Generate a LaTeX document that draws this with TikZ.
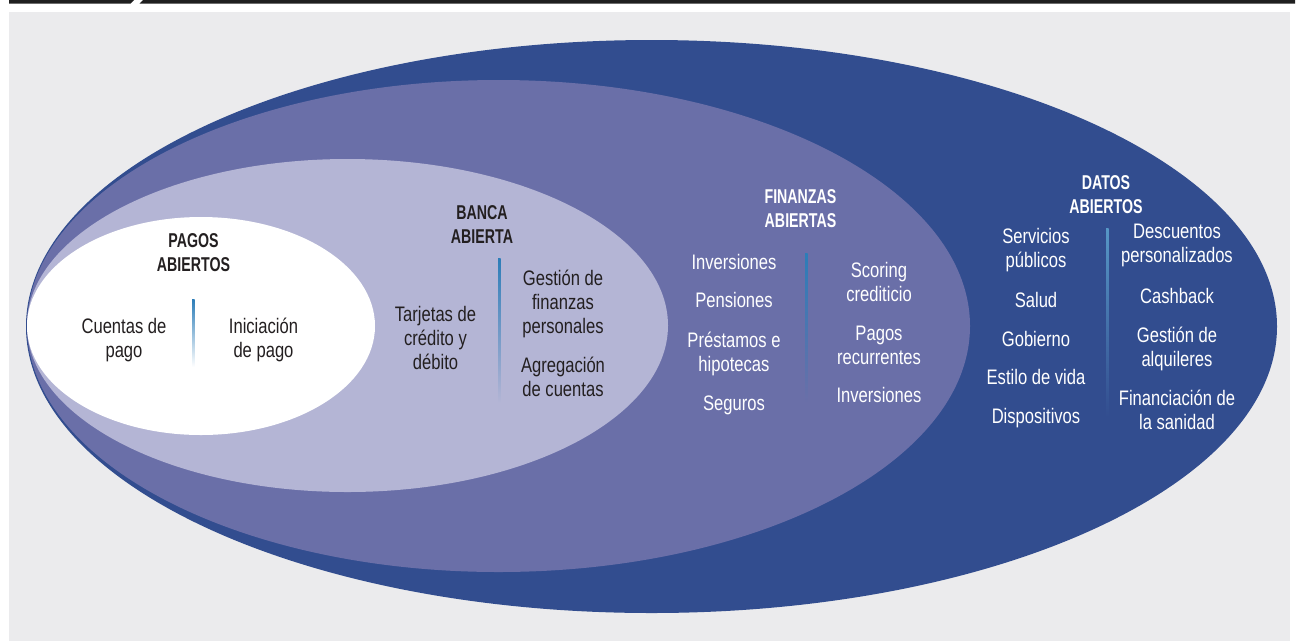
\documentclass[tikz,border=0pt]{standalone}
\usepackage{fontspec}
\newfontfamily\bodyfont{Liberation Sans}[FakeStretch=0.79]
\newfontfamily\headfont{Liberation Sans}[FakeStretch=0.71]
\definecolor{bgrey}{HTML}{EBEBED}
\definecolor{outerblue}{HTML}{324D8F}
\definecolor{midblue}{HTML}{6A6FA8}
\definecolor{lightblue}{HTML}{B4B5D5}
\definecolor{txtdark}{HTML}{231F20}
\definecolor{sepblue}{HTML}{2C7DB8}
\tikzset{
  txt/.style={font=\bodyfont\fontsize{21}{24}\selectfont, align=center, inner sep=0pt, anchor=base},
  head/.style={font=\headfont\bfseries\fontsize{20}{24}\selectfont, align=center, inner sep=0pt, anchor=base},
  dk/.style={text=txtdark},
  wt/.style={text=white},
}
\begin{document}
\begin{tikzpicture}[x=1pt,y=-1pt]
\useasboundingbox (0,0) rectangle (1298,641);
\fill[white] (0,0) rectangle (1298,641);
% top bar
\fill[black!88] (9,0) -- (134,0) -- (130.5,3.6) -- (9,3.6) -- cycle;
\fill[black!88] (143,0) -- (1295,0) -- (1295,3.6) -- (139.5,3.6) -- cycle;
% background
\fill[bgrey] (9,12) rectangle (1290,641);
% ellipses
\fill[outerblue] (651.5,326.5) ellipse [x radius=625.5pt, y radius=286.5pt];
\fill[midblue] (498.5,326) ellipse [x radius=471.5pt, y radius=246pt];
\fill[lightblue] (347.5,325.5) ellipse [x radius=320.5pt, y radius=166.5pt];
\fill[white] (201,326) ellipse [x radius=174pt, y radius=109pt];
% separators
\shade[top color=sepblue, bottom color=white] (192,299) rectangle (194.5,367);
\shade[top color=sepblue, bottom color=lightblue] (498,258) rectangle (500.5,403);
\shade[top color=sepblue, bottom color=midblue] (805,253) rectangle (807.5,403);
\shade[top color=sepblue!80!white, bottom color=outerblue] (1106,228) rectangle (1108.5,417);
% PAGOS ABIERTOS (anchor = baseline of last line)
\node[head,dk] (pagos) at (193.5,271) {PAGOS\\ABIERTOS};
\node[txt,dk] (cuentas) at (124,357) {Cuentas de\\pago};
\node[txt,dk] (iniciacion) at (263.5,357) {Iniciación\\de pago};
% BANCA ABIERTA
\node[head,dk] (banca) at (482,243) {BANCA\\ABIERTA};
\node[txt,dk] (tarjetas) at (435.5,369) {Tarjetas de\\crédito y\\débito};
\node[txt,dk] (gestionfin) at (563,333) {Gestión de\\finanzas\\personales};
\node[txt,dk] (agregacion) at (563,396) {Agregación\\de cuentas};
% FINANZAS ABIERTAS
\node[head,wt] (finanzas) at (800.5,227) {FINANZAS\\ABIERTAS};
\node[txt,wt] (inv1) at (734,269) {Inversiones};
\node[txt,wt] (pensiones) at (734,307.5) {Pensiones};
\node[txt,wt] (prestamos) at (734,371) {Préstamos e\\hipotecas};
\node[txt,wt] (seguros) at (734,410) {Seguros};
\node[txt,wt] (scoring) at (879,301) {Scoring\\crediticio};
\node[txt,wt] (pagosrec) at (879,364) {Pagos\\recurrentes};
\node[txt,wt] (inv2) at (879,402.5) {Inversiones};
% DATOS ABIERTOS
\node[head,wt] (datos) at (1106,213) {DATOS\\ABIERTOS};
\node[txt,wt] (servicios) at (1036,267) {Servicios\\públicos};
\node[txt,wt] (salud) at (1036,307) {Salud};
\node[txt,wt] (gobierno) at (1036,346) {Gobierno};
\node[txt,wt] (estilo) at (1036,384.5) {Estilo de vida};
\node[txt,wt] (dispositivos) at (1036,423) {Dispositivos};
\node[txt,wt] (descuentos) at (1177,262) {Descuentos\\personalizados};
\node[txt,wt] (cashback) at (1177,303) {Cashback};
\node[txt,wt] (gestionalq) at (1177,366) {Gestión de\\alquileres};
\node[txt,wt] (financiacion) at (1177,429) {Financiación de\\la sanidad};
\end{tikzpicture}
\end{document}
